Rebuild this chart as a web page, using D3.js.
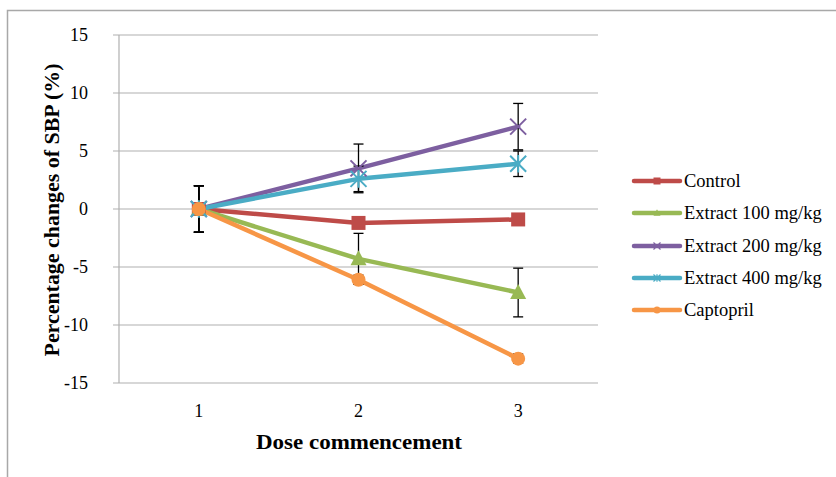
<!DOCTYPE html>
<html>
<head>
<meta charset="utf-8">
<script src="https://cdn.jsdelivr.net/npm/d3@7"></script>
<style>
  html, body { margin: 0; padding: 0; background: #fff; }
  svg { display: block; }
  text { font-family: "Liberation Serif", "Times New Roman", serif; fill: #000; }
</style>
</head>
<body>
<svg id="chart" width="836" height="477"></svg>
<script>
// Dose commencement points
const doses = [1, 2, 3];
const yTicks = [-15, -10, -5, 0, 5, 10, 15];

// Mean percentage change of SBP for each group
const seriesNames = ["Control", "Extract 100 mg/kg", "Extract 200 mg/kg", "Extract 400 mg/kg", "Captopril"];
const controlValues   = [0, -1.2, -0.9];
const extract100Values = [0, -4.3, -7.2];
const extract200Values = [0, 3.5, 7.1];
const extract400Values = [0, 2.6, 3.9];
const captoprilValues  = [0, -6.1, -12.9];

// Error (± SEM) per point
const controlErrors    = [2.0, 0.4, 0.3];
const extract100Errors = [2.0, 2.2, 2.1];
const extract200Errors = [2.0, 2.1, 2.0];
const extract400Errors = [2.0, 1.1, 1.1];
const captoprilErrors  = [2.0, 0.4, 0.4];

const seriesColors = ["#BE4B48", "#98B954", "#7D5FA0", "#4AACC5", "#F79646"];
const markerTypes = ["square", "triangle", "x", "star", "circle"];

const series = seriesNames.map((name, i) => ({
  name,
  color: seriesColors[i],
  marker: markerTypes[i],
  values: [controlValues, extract100Values, extract200Values, extract400Values, captoprilValues][i],
  errors: [controlErrors, extract100Errors, extract200Errors, extract400Errors, captoprilErrors][i]
}));

const svg = d3.select("#chart");

// Outer chart frame
svg.append("rect")
  .attr("x", 7.5).attr("y", 10.5)
  .attr("width", 840).attr("height", 480)
  .attr("fill", "none")
  .attr("stroke", "#a8a8a8")
  .attr("stroke-width", 1.5);

const plot = { left: 119, right: 598, top: 35, bottom: 383 };

const x = d3.scalePoint().domain(doses).range([plot.left, plot.right]).padding(0.5);
const y = d3.scaleLinear().domain([-15, 15]).range([plot.bottom, plot.top]);

// Horizontal gridlines
svg.append("g")
  .selectAll("line")
  .data(yTicks)
  .join("line")
  .attr("x1", plot.left - 6).attr("x2", plot.right)
  .attr("y1", d => y(d)).attr("y2", d => y(d))
  .attr("stroke", "#b0b0b0")
  .attr("stroke-width", 1.2);

// Vertical axis line
svg.append("line")
  .attr("x1", plot.left).attr("x2", plot.left)
  .attr("y1", plot.top).attr("y2", plot.bottom)
  .attr("stroke", "#b0b0b0")
  .attr("stroke-width", 1.2);

// Y tick labels
svg.append("g")
  .selectAll("text")
  .data(yTicks)
  .join("text")
  .attr("x", 88)
  .attr("y", d => y(d))
  .attr("text-anchor", "end")
  .attr("dominant-baseline", "central")
  .style("font-size", "18px")
  .text(d => d);

// X tick labels
svg.append("g")
  .selectAll("text")
  .data(doses)
  .join("text")
  .attr("x", d => x(d))
  .attr("y", 417)
  .attr("text-anchor", "middle")
  .style("font-size", "18px")
  .text(d => d);

// Axis titles
svg.append("text")
  .attr("x", 359)
  .attr("y", 449)
  .attr("text-anchor", "middle")
  .attr("textLength", 206)
  .attr("lengthAdjust", "spacingAndGlyphs")
  .style("font-size", "21px")
  .style("font-weight", "bold")
  .text("Dose commencement");

svg.append("text")
  .attr("transform", "translate(59,210) rotate(-90)")
  .attr("text-anchor", "middle")
  .attr("textLength", 293)
  .attr("lengthAdjust", "spacingAndGlyphs")
  .style("font-size", "21px")
  .style("font-weight", "bold")
  .text("Percentage changes of SBP (%)");

// Marker drawing
function drawMarker(g, type, color, s) {
  if (type === "square") {
    g.append("rect").attr("x", -s / 2).attr("y", -s / 2).attr("width", s).attr("height", s).attr("fill", color);
  } else if (type === "circle") {
    g.append("circle").attr("r", s / 2).attr("fill", color);
  } else if (type === "triangle") {
    const h = s * 0.9;
    g.append("path")
      .attr("d", `M0,${-h * 0.6}L${s / 2},${h * 0.45}L${-s / 2},${h * 0.45}Z`)
      .attr("fill", color);
  } else if (type === "x") {
    const r = s / 2;
    g.append("path")
      .attr("d", `M${-r},${-r}L${r},${r}M${-r},${r}L${r},${-r}`)
      .attr("stroke", color).attr("stroke-width", Math.max(1.2, s / 8)).attr("fill", "none");
  } else if (type === "star") {
    const r = s / 2;
    g.append("path")
      .attr("d", `M${-r},${-r}L${r},${r}M${-r},${r}L${r},${-r}M0,${-r * 1.1}L0,${r * 1.1}`)
      .attr("stroke", color).attr("stroke-width", Math.max(1.2, s / 8)).attr("fill", "none");
  }
}

const line = d3.line().x((d, i) => x(doses[i])).y(d => y(d));

// Series lines
svg.append("g")
  .selectAll("path")
  .data(series)
  .join("path")
  .attr("d", d => line(d.values))
  .attr("fill", "none")
  .attr("stroke", d => d.color)
  .attr("stroke-width", 4.5)
  .attr("stroke-linejoin", "round")
  .attr("stroke-linecap", "round");

// Error bars
const errG = svg.append("g");
series.forEach(s => {
  s.values.forEach((v, i) => {
    const cx = x(doses[i]);
    const y1 = y(v + s.errors[i]);
    const y2 = y(v - s.errors[i]);
    errG.append("line").attr("x1", cx).attr("x2", cx).attr("y1", y1).attr("y2", y2)
      .attr("stroke", "#000").attr("stroke-width", 1.3);
    [y1, y2].forEach(yy => {
      errG.append("line").attr("x1", cx - 5).attr("x2", cx + 5).attr("y1", yy).attr("y2", yy)
        .attr("stroke", "#000").attr("stroke-width", 1.3);
    });
  });
});

// Markers
const markerSizes = { square: 14, circle: 14, triangle: 16, x: 16, star: 16 };
series.forEach(s => {
  s.values.forEach((v, i) => {
    const g = svg.append("g").attr("transform", `translate(${x(doses[i])},${y(v)})`);
    drawMarker(g, s.marker, s.color, markerSizes[s.marker]);
  });
});

// Legend
const legend = svg.append("g");
const legendY = [181, 213, 246, 278, 310];
series.forEach((s, i) => {
  const row = legend.append("g").attr("transform", `translate(0,${legendY[i]})`);
  row.append("line")
    .attr("x1", 634).attr("x2", 680).attr("y1", 0).attr("y2", 0)
    .attr("stroke", s.color).attr("stroke-width", 4.5).attr("stroke-linecap", "round");
  const m = row.append("g").attr("transform", "translate(657,0)");
  drawMarker(m, s.marker, s.color, 7);
  row.append("text")
    .attr("x", 684).attr("y", 0)
    .attr("dominant-baseline", "central")
    .style("font-size", "18.5px")
    .text(s.name);
});
</script>
</body>
</html>
